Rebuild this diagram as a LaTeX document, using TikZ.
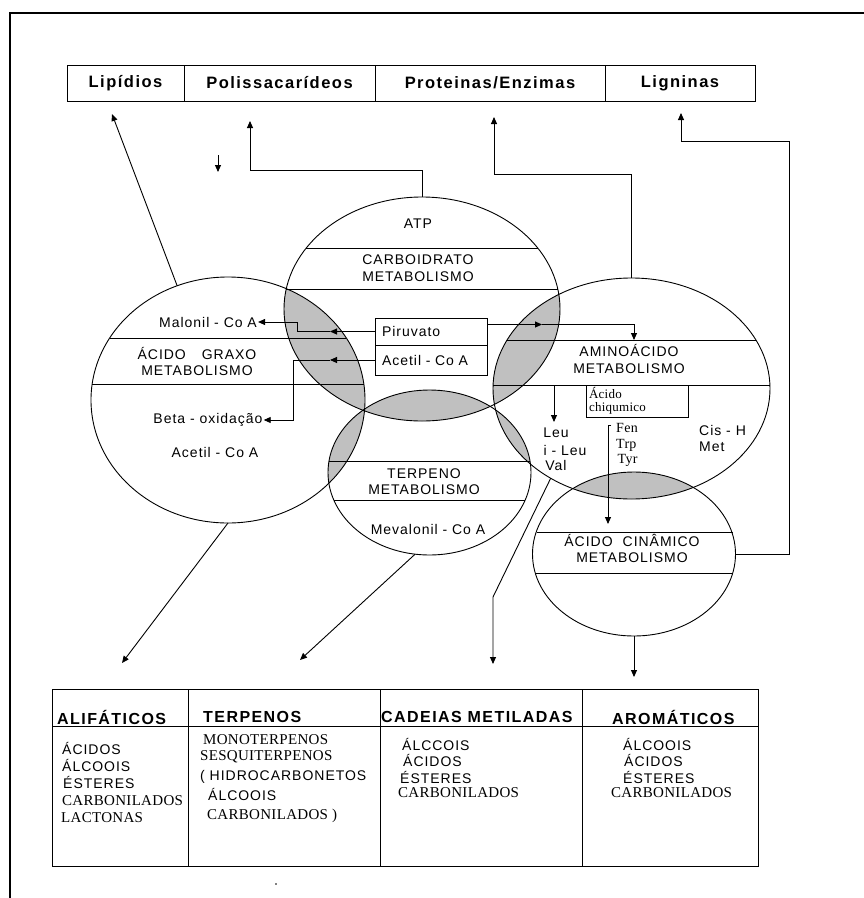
\documentclass[tikz,border=0pt]{standalone}
\usepackage{fontspec}
\setmainfont{Liberation Sans}
\newfontfamily\spc[LetterSpace=7]{Liberation Sans}
\newfontfamily\hdr[LetterSpace=9]{Liberation Sans}
\newfontfamily\srf[LetterSpace=2]{Liberation Serif}
\usetikzlibrary{arrows.meta,shapes.geometric,calc}
\definecolor{lensgray}{HTML}{C0C0C0}
\tikzset{
  ln/.style={line width=0.9pt},
  arr/.style={line width=0.9pt,-{Triangle[length=7pt,width=6pt]}},
  ell/.style={draw,ellipse,line width=0.9pt,inner sep=0pt,outer sep=0pt},
  lbl/.style={inner sep=1pt,align=center,font={\spc\fontsize{14}{16.5}\selectfont}},
  srftxt/.style={inner sep=0pt,anchor=west,align=left,font={\srf\fontsize{15}{17}\selectfont}},
  sanstxt/.style={inner sep=0pt,anchor=west,align=left,font={\spc\fontsize{14}{17}\selectfont}},
  topbox/.style={draw,line width=0.9pt,minimum height=36pt,inner sep=0pt,font={\hdr\bfseries\fontsize{16.5}{18}\selectfont}},
  cell/.style={draw,line width=0.9pt,inner sep=0pt},
  hdrtxt/.style={inner sep=0pt,anchor=west,font={\hdr\bfseries\fontsize{16}{18}\selectfont}},
  boxnode/.style={draw,line width=0.9pt,inner sep=0pt,outer sep=0pt}
}
\begin{document}
\begin{tikzpicture}[x=1pt,y=-1pt]
\useasboundingbox (0,0) rectangle (864,898);
\fill[white] (0,0) rectangle (864,898);

% outer frame (left and top edges)
\draw[line width=1.6pt] (10,898) -- (10,13) -- (864,13);

% ---------- grey overlaps ----------
\begin{scope}\clip (228,400) ellipse [x radius=137pt,y radius=123pt];
  \fill[lensgray] (422,309) ellipse [x radius=138pt,y radius=112pt];
  \fill[lensgray] (429.5,472.5) ellipse [x radius=101.5pt,y radius=82.5pt];
\end{scope}
\begin{scope}\clip (422,309) ellipse [x radius=138pt,y radius=112pt];
  \fill[lensgray] (631.5,388.5) ellipse [x radius=138.5pt,y radius=110.5pt];
  \fill[lensgray] (429.5,472.5) ellipse [x radius=101.5pt,y radius=82.5pt];
\end{scope}
\begin{scope}\clip (631.5,388.5) ellipse [x radius=138.5pt,y radius=110.5pt];
  \fill[lensgray] (429.5,472.5) ellipse [x radius=101.5pt,y radius=82.5pt];
  \fill[lensgray] (634,554) ellipse [x radius=101.5pt,y radius=82pt];
\end{scope}

% ---------- ellipses ----------
\node[ell,minimum width=274pt,minimum height=246pt] (L) at (228,400) {};
\node[ell,minimum width=276pt,minimum height=224pt] (C) at (422,309) {};
\node[ell,minimum width=277pt,minimum height=221pt] (A) at (631.5,388.5) {};
\node[ell,minimum width=203pt,minimum height=165pt] (T) at (429.5,472.5) {};
\node[ell,minimum width=203pt,minimum height=164pt] (N) at (634,554) {};

% ---------- chords ----------
\draw[ln] (306,248) -- (538,248);
\draw[ln] (286,289) -- (558,289);
\draw[ln] (110,338) -- (346,338);
\draw[ln] (92,384) -- (364,384);
\draw[ln] (507,340) -- (756,340);
\draw[ln] (493,385) -- (770,385);
\draw[ln] (329,461) -- (530,461);
\draw[ln] (334,500) -- (525,500);
\draw[ln] (536.5,532) -- (732.5,532);
\draw[ln] (536,573) -- (733,573);

% ---------- top boxes ----------
\node[topbox,minimum width=117pt] (lip) at (125.5,83) {Lipídios};
\node[topbox,minimum width=191pt] (pol) at (279.5,83) {Polissacarídeos};
\node[topbox,minimum width=230pt] (prot) at (490,83) {Proteinas/Enzimas};
\node[topbox,minimum width=150pt] (lig) at (680,83) {Ligninas};

% ---------- ellipse labels ----------
\node[lbl] (atp) at (418,224) {ATP};
\node[lbl] (carbt) at (418,268) {CARBOIDRATO\\METABOLISMO};
\node[lbl] (malonil) at (208,322) {Malonil - Co A};
\node[lbl] (graxo) at (197,361.5) {ÁCIDO\hspace{16pt}GRAXO\\METABOLISMO};
\node[lbl] (beta) at (208,420) {Beta - oxidação};
\node[lbl] (acetL) at (215,452) {Acetil - Co A};
\node[lbl] (amino) at (629,359) {AMINOÁCIDO\\METABOLISMO};
\node[lbl] (terpt) at (424,481.5) {TERPENO\\METABOLISMO};
\node[lbl] (meva) at (428,529) {Mevalonil - Co A};
\node[lbl] (cinat) at (632,548.5) {ÁCIDO\hspace{10pt}CINÂMICO\\METABOLISMO};
\node[lbl] (leu) at (556,433) {Leu};
\node[lbl] (ileu) at (565,450) {i - Leu};
\node[lbl] (val) at (556,465) {Val};
\node[lbl,anchor=west,align=left] (cis) at (698,438.5) {Cis - H\\Met};
\node[srftxt,font={\srf\fontsize{14}{15.5}\selectfont}] (fen) at (616,445) {Fen\\Trp\\\hspace{1.5pt}Tyr};

% Piruvato / Acetil box
\node[boxnode,minimum width=112pt,minimum height=27pt,text width=104pt,align=left,font={\spc\fontsize{14}{16}\selectfont}] (piru) at (431,331.5) {\hspace{3pt}Piruvato};
\node[boxnode,minimum width=112pt,minimum height=30pt,text width=104pt,align=left,font={\spc\fontsize{14}{16}\selectfont}] (acet) at (431,360) {\hspace{3pt}Acetil - Co A};

% Acido chiqumico box
\node[boxnode,minimum width=102pt,minimum height=32pt,text width=96pt,align=left,font={\srf\fontsize{13}{13}\selectfont}] (chiq) at (637,401) {Ácido\\chiqumico};

% ---------- internal arrows ----------
\coordinate (pm1) at (330,331.5);
\draw[arr] (piru.west) -- (pm1);
\draw[arr] (pm1) -- (297,331.5) -- (297,322) -- (malonil.east);
\coordinate (pm2) at (330,360);
\draw[arr] (acet.west) -- (pm2);
\draw[arr] (pm2) -- (293,360) -- (293,420) -- (beta.east);
\coordinate (pm3) at (542,324.5);
\coordinate (aminoIn) at (634,340);
\draw[arr] ($(piru.east)+(0,-7)$) -- (pm3);
\draw[arr] (pm3) -- (634,324.5) -- (aminoIn);
\coordinate (leuS) at (554,385);
\coordinate (leuT) at (554,422);
\draw[arr] (leuS) -- (leuT);
\coordinate (fenTop) at (608,425);
\coordinate (fenT) at (608,524);
\draw[ln] (611,425) -- (fenTop);
\draw[arr] (fenTop) -- (fenT);

% ---------- arrows to top ----------
\coordinate (lipT) at (112,114);
\coordinate (polT) at (250,121);
\coordinate (protT) at (494,117);
\coordinate (ligT) at (681,113);
\draw[arr] (L.114) -- (lipT);
\draw[arr] (C.north) -- (422,170) -| (polT);
\draw[arr] (A.north) -- (631.5,174) -| (protT);
\draw[arr] (N.east) -- (789,554) -- (789,141) -| (ligT);
\coordinate (strayS) at (218,155);
\coordinate (strayT) at (218,172);
\draw[arr] (strayS) -- (strayT);

% ---------- arrows to bottom ----------
\coordinate (aliT) at (122,663);
\coordinate (terT) at (300,660);
\coordinate (cadT) at (493,664);
\coordinate (aroT) at (634,677);
\draw[arr] (L.south) -- (aliT);
\draw[arr] (T.260) -- (terT);
\draw[arr] (A.228) -- (493,597) -- (cadT);
\draw[arr] (N.south) -- (aroT);

% ---------- bottom table ----------
\node[cell,minimum width=136pt,minimum height=37pt] (h1) at (120,707.5) {};
\node[cell,minimum width=192pt,minimum height=37pt] (h2) at (284,707.5) {};
\node[cell,minimum width=202pt,minimum height=37pt] (h3) at (481,707.5) {};
\node[cell,minimum width=176pt,minimum height=37pt] (h4) at (670,707.5) {};
\node[cell,minimum width=136pt,minimum height=140pt] (b1) at (120,796) {};
\node[cell,minimum width=192pt,minimum height=140pt] (b2) at (284,796) {};
\node[cell,minimum width=202pt,minimum height=140pt] (b3) at (481,796) {};
\node[cell,minimum width=176pt,minimum height=140pt] (b4) at (670,796) {};

\node[hdrtxt] (t1) at (57,717) {ALIFÁTICOS};
\node[hdrtxt] (t2) at (203,717) {TERPENOS};
\node[hdrtxt] (t3) at (381,717) {CADEIAS METILADAS};
\node[hdrtxt] (t4) at (612,717) {AROMÁTICOS};

\node[sanstxt] (a1) at (62,748) {ÁCIDOS};
\node[sanstxt] (a2) at (62,765) {ÁLCOOIS};
\node[sanstxt] (a3) at (63,782) {ÉSTERES};
\node[srftxt] (a4) at (62,801) {CARBONILADOS};
\node[srftxt] (a5) at (61,818) {LACTONAS};

\node[srftxt] (p1) at (203,740) {MONOTERPENOS};
\node[srftxt] (p2) at (200,757) {SESQUITERPENOS};
\node[sanstxt] (p3) at (200,777) {( HIDROCARBONETOS};
\node[sanstxt] (p4) at (208,794) {ÁLCOOIS};
\node[srftxt] (p5) at (207,816) {CARBONILADOS )};

\node[sanstxt] (c1) at (402,744) {ÁLCCOIS};
\node[sanstxt] (c2) at (403,760) {ÁCIDOS};
\node[sanstxt] (c3) at (400,777) {ÉSTERES};
\node[srftxt] (c4) at (398,793) {CARBONILADOS};

\node[sanstxt] (r1) at (623,744) {ÁLCOOIS};
\node[sanstxt] (r2) at (624,760) {ÁCIDOS};
\node[sanstxt] (r3) at (623,777) {ÉSTERES};
\node[srftxt] (r4) at (611,793) {CARBONILADOS};

\fill (276,884) circle (0.8pt);
\end{tikzpicture}
\end{document}
